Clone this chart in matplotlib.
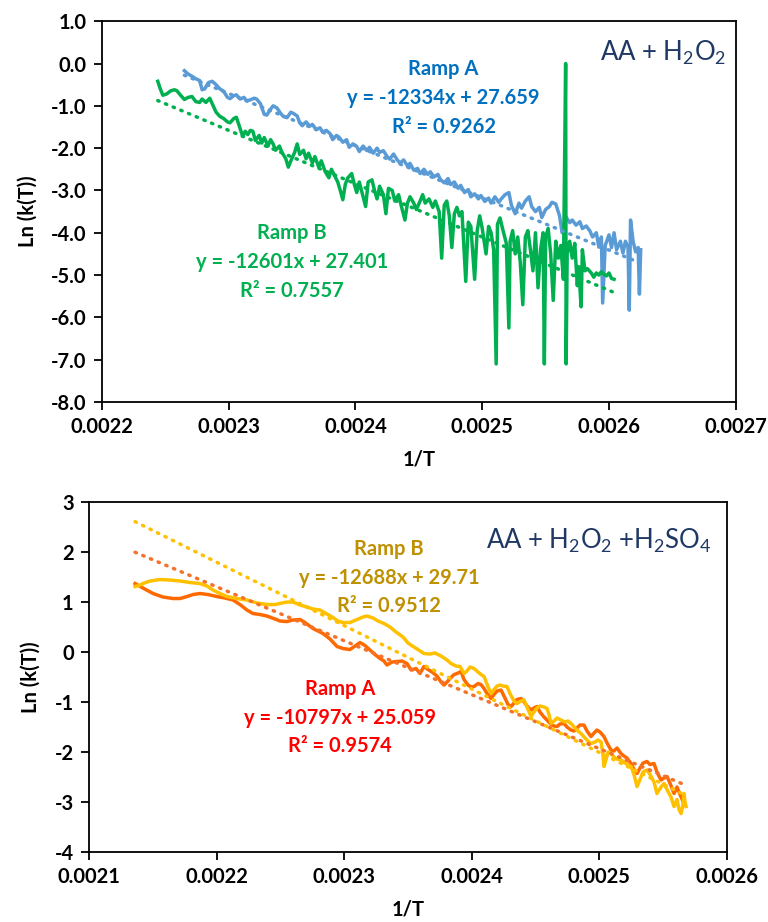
import numpy as np
import matplotlib.pyplot as plt

plt.rcParams['font.family'] = ['Lato', 'DejaVu Sans']
plt.rcParams['mathtext.fontset'] = 'custom'
plt.rcParams['mathtext.rm'] = 'Lato'
plt.rcParams['mathtext.default'] = 'regular'
plt.rcParams['axes.unicode_minus'] = False

# ---- top panel: AA + H2O2 (x in 1e-6 units of 1/T) ----
top_a_x = [2265, 2268, 2271, 2274, 2277, 2279, 2281, 2284, 2287, 2290, 2293, 2296, 2299, 2301, 2304,
           2306, 2309, 2312, 2314, 2317, 2320, 2322, 2325, 2328, 2330, 2333, 2335, 2338, 2341, 2343,
           2346, 2349, 2351, 2354, 2356, 2358, 2361, 2364, 2366, 2369, 2372, 2374, 2377, 2380, 2382,
           2385, 2387, 2390, 2393, 2395, 2398, 2401, 2403, 2406, 2409, 2411, 2414, 2417, 2419, 2422,
           2425, 2427, 2430, 2433, 2435, 2438, 2441, 2443, 2446, 2449, 2451, 2454, 2457, 2459, 2462,
           2465, 2467, 2470, 2473, 2475, 2478, 2481, 2483, 2486, 2489, 2491, 2494, 2497, 2499, 2502,
           2505, 2507, 2510, 2513, 2515, 2518, 2521, 2523, 2526, 2529, 2531, 2534, 2537, 2539, 2542,
           2545, 2547, 2550, 2553, 2555, 2558, 2561, 2563, 2566, 2569, 2571, 2574, 2577, 2579, 2582,
           2585, 2587, 2590, 2592, 2594, 2595, 2597, 2600, 2602, 2604, 2606, 2609, 2611, 2613, 2615,
           2616, 2617, 2619, 2621, 2623, 2624, 2625]
top_a_y = [-0.17, -0.25, -0.30, -0.36, -0.40, -0.62, -0.60, -0.45, -0.42, -0.50, -0.60, -0.66, -0.80, -0.83, -0.76,
           -0.74, -0.84, -0.80, -0.88, -0.86, -0.82, -0.84, -0.95, -1.20, -1.22, -1.08, -1.00, -1.05, -1.18, -1.25,
           -1.28, -1.15, -1.18, -1.24, -1.40, -1.47, -1.38, -1.48, -1.44, -1.56, -1.52, -1.62, -1.58, -1.66, -1.80,
           -1.70, -1.74, -1.86, -1.80, -1.98, -1.90, -1.96, -2.08, -1.95, -2.06, -1.98, -2.12, -2.00, -2.10, -2.06,
           -2.20, -2.26, -2.14, -2.28, -2.35, -2.28, -2.42, -2.36, -2.52, -2.48, -2.60, -2.50, -2.62, -2.56, -2.68,
           -2.62, -2.74, -2.82, -2.72, -2.86, -2.80, -2.95, -2.88, -3.05, -2.98, -3.15, -3.08, -3.20, -3.12, -3.26,
           -3.18, -3.30, -3.15, -3.28, -3.20, -3.10, -3.05, -3.35, -3.55, -3.30, -3.42, -3.25, -3.15, -3.38, -3.50,
           -3.40, -3.64, -3.45, -3.38, -3.28, -3.32, -3.60, -4.00, -3.62, -3.76, -3.70, -3.82, -3.74, -3.90, -3.84,
           -3.96, -4.10, -4.00, -4.34, -4.10, -5.66, -4.30, -4.05, -4.35, -4.00, -4.40, -4.20, -4.48, -4.20, -4.35,
           -5.83, -3.70, -4.20, -4.45, -4.35, -5.45, -4.40]

top_b_x = [2244, 2246, 2248, 2251, 2254, 2257, 2259, 2262, 2265, 2268, 2271, 2274, 2277, 2279, 2282,
           2285, 2287, 2290, 2293, 2296, 2299, 2301, 2304, 2306, 2308, 2311, 2313, 2315, 2317, 2319,
           2321, 2324, 2326, 2328, 2331, 2333, 2335, 2337, 2340, 2342, 2345, 2347, 2349, 2352, 2354,
           2356, 2359, 2361, 2363, 2366, 2368, 2371, 2373, 2376, 2379, 2381, 2383, 2386, 2388, 2390,
           2392, 2394, 2397, 2399, 2401, 2403, 2406, 2408, 2410, 2413, 2415, 2417, 2419, 2422, 2424,
           2426, 2429, 2431, 2434, 2436, 2439, 2441, 2443, 2446, 2448, 2451, 2453, 2455, 2458, 2461,
           2463, 2466, 2468, 2470, 2472, 2474, 2476, 2478, 2480, 2482, 2484, 2487, 2489, 2491, 2494,
           2496, 2498, 2500, 2503, 2505, 2507, 2509, 2511, 2512, 2514, 2516, 2519, 2521, 2522, 2524,
           2526, 2528, 2530, 2532, 2534, 2536, 2538, 2540, 2542, 2544, 2546, 2548, 2549, 2550, 2552,
           2554, 2556, 2558, 2560, 2562, 2564, 2565.8, 2566.2, 2567, 2569, 2571, 2573, 2575, 2576, 2578,
           2579, 2581, 2583, 2586, 2588, 2590, 2592, 2594, 2596, 2598, 2600, 2602, 2604]
top_b_y = [-0.42, -0.60, -0.75, -0.72, -0.65, -0.62, -0.64, -0.75, -0.85, -0.80, -0.78, -0.90, -0.92, -0.84, -0.92,
           -0.82, -0.95, -1.15, -1.25, -1.30, -1.38, -1.40, -1.30, -1.27, -1.45, -1.72, -1.60, -1.68, -1.58, -1.60,
           -1.82, -1.70, -1.88, -1.75, -1.95, -1.80, -1.90, -2.05, -1.95, -2.10, -2.25, -2.45, -2.30, -2.10, -1.90,
           -2.15, -2.05, -2.25, -2.12, -2.35, -2.20, -2.45, -2.30, -2.55, -2.70, -2.50, -2.62, -2.80, -3.00, -3.22,
           -2.85, -2.70, -2.60, -2.85, -3.05, -2.80, -3.15, -3.38, -2.80, -2.75, -3.00, -3.20, -2.90, -3.10, -3.55,
           -2.95, -3.00, -3.25, -3.10, -3.35, -3.70, -3.30, -3.15, -3.30, -3.45, -3.25, -3.10, -3.30, -3.20, -3.40,
           -3.25, -3.50, -4.60, -3.35, -3.25, -3.60, -4.35, -3.55, -3.40, -3.60, -3.50, -5.15, -3.75, -3.85, -5.10,
           -3.95, -3.60, -3.90, -4.50, -3.85, -4.00, -4.40, -7.10, -3.80, -3.65, -3.90, -4.25, -6.25, -4.20, -3.95,
           -4.50, -4.10, -4.70, -5.70, -4.10, -3.95, -4.40, -4.90, -4.00, -5.30, -4.40, -4.00, -7.10, -4.10, -3.90,
           -4.50, -5.60, -4.20, -4.60, -4.30, -5.10, 0.00, -7.10, -4.50, -4.20, -4.60, -4.25, -5.25, -4.80, -5.75,
           -4.40, -4.90, -4.85, -4.95, -5.05, -4.95, -5.00, -4.92, -4.98, -5.02, -4.95, -5.08, -5.10]

# ---- bottom panel: AA + H2O2 + H2SO4 ----
bot_a_x = [2136.1, 2142.3, 2150.2, 2158.0, 2165.8, 2171.3, 2176.8, 2181.5, 2187.0, 2193.3, 2200.3, 2206.6,
           2212.9, 2218.3, 2223.8, 2228.5, 2234.0, 2239.5, 2245.8, 2249.7, 2255.2, 2259.9, 2265.4, 2269.3,
           2275.5, 2279.5, 2283.4, 2288.9, 2294.4, 2299.1, 2304.5, 2308.5, 2312.4, 2316.3, 2320.2, 2324.1,
           2328.1, 2331.2, 2333.5, 2337.5, 2341.4, 2345.3, 2349.2, 2352.4, 2356.3, 2359.4, 2362.5, 2365.7,
           2368.8, 2372.7, 2375.9, 2378.2, 2380.6, 2382.9, 2386.1, 2388.4, 2391.5, 2393.9, 2397.0, 2399.4,
           2401.7, 2404.9, 2407.2, 2409.6, 2412.0, 2415.0, 2417.4, 2419.8, 2422.9, 2426.0, 2428.4, 2430.7,
           2433.1, 2435.4, 2438.6, 2440.9, 2444.0, 2446.4, 2448.7, 2451.1, 2453.4, 2456.6, 2458.9, 2462.1,
           2464.4, 2466.8, 2469.1, 2472.3, 2474.6, 2477.7, 2480.1, 2482.4, 2484.8, 2487.9, 2490.3, 2493.4,
           2495.8, 2498.1, 2500.5, 2503.6, 2506.0, 2509.1, 2511.4, 2513.8, 2516.9, 2519.3, 2521.6, 2524.8,
           2527.1, 2529.5, 2531.8, 2534.2, 2537.3, 2539.7, 2542.8, 2545.1, 2548.3, 2550.6, 2553.0, 2555.3,
           2558.5, 2560.8, 2563.2, 2566.3]
bot_a_y = [1.37, 1.28, 1.17, 1.10, 1.07, 1.07, 1.11, 1.15, 1.17, 1.15, 1.11, 1.08,
           1.04, 0.95, 0.84, 0.77, 0.75, 0.72, 0.66, 0.62, 0.61, 0.64, 0.65, 0.59,
           0.47, 0.42, 0.37, 0.26, 0.11, 0.07, 0.05, 0.12, 0.19, 0.13, 0.04, -0.05,
           -0.13, -0.18, -0.26, -0.20, -0.19, -0.18, -0.23, -0.36, -0.33, -0.43, -0.29, -0.35,
           -0.40, -0.48, -0.60, -0.66, -0.60, -0.53, -0.45, -0.43, -0.39, -0.55, -0.66, -0.70,
           -0.69, -0.63, -0.65, -0.73, -0.83, -0.93, -0.85, -0.78, -0.76, -0.92, -1.05, -1.09,
           -1.02, -0.95, -0.93, -1.00, -1.10, -1.16, -1.12, -1.09, -1.20, -1.30, -1.36, -1.45,
           -1.48, -1.49, -1.44, -1.43, -1.50, -1.56, -1.58, -1.52, -1.46, -1.46, -1.58, -1.69,
           -1.62, -1.56, -1.60, -1.69, -1.82, -1.96, -1.98, -1.92, -2.03, -2.08, -2.12, -2.23,
           -2.35, -2.43, -2.32, -2.22, -2.19, -2.25, -2.23, -2.40, -2.56, -2.52, -2.49, -2.62,
           -2.83, -2.70, -2.85, -3.03]

bot_b_x = [2136.1, 2140.0, 2142.3, 2147.8, 2155.6, 2163.5, 2171.3, 2179.2, 2187.0, 2192.5, 2197.2, 2202.7,
           2208.2, 2216.0, 2223.8, 2231.7, 2239.5, 2245.8, 2251.3, 2255.2, 2259.9, 2265.4, 2270.9, 2275.5,
           2281.0, 2286.5, 2291.2, 2295.1, 2299.1, 2304.5, 2310.0, 2314.7, 2317.9, 2322.6, 2326.5, 2331.2,
           2335.9, 2340.6, 2346.1, 2350.0, 2354.0, 2357.8, 2362.5, 2367.2, 2371.2, 2375.9, 2380.6, 2383.7,
           2387.6, 2390.8, 2393.9, 2396.2, 2398.6, 2401.7, 2404.9, 2407.2, 2409.6, 2412.0, 2415.0, 2417.4,
           2419.8, 2422.1, 2424.4, 2427.6, 2429.9, 2433.1, 2435.4, 2438.6, 2440.9, 2443.3, 2446.4, 2448.7,
           2451.1, 2453.4, 2456.6, 2458.9, 2460.5, 2462.1, 2464.4, 2466.8, 2469.9, 2473.0, 2475.4, 2477.7,
           2480.9, 2483.2, 2485.6, 2488.7, 2491.1, 2493.4, 2496.6, 2498.9, 2501.3, 2502.8, 2503.6, 2505.2,
           2506.8, 2509.1, 2511.4, 2513.8, 2516.9, 2519.3, 2521.6, 2524.8, 2527.1, 2529.5, 2531.8, 2534.2,
           2537.3, 2539.7, 2542.8, 2545.1, 2548.3, 2550.6, 2553.0, 2556.1, 2558.5, 2560.8, 2562.4, 2564.0,
           2565.5, 2566.3, 2567.1, 2567.9]
bot_b_y = [1.31, 1.34, 1.37, 1.42, 1.45, 1.44, 1.42, 1.39, 1.37, 1.32, 1.24, 1.17,
           1.11, 1.07, 1.04, 0.98, 0.95, 0.95, 0.98, 1.00, 1.00, 0.94, 0.90, 0.86,
           0.84, 0.76, 0.69, 0.62, 0.59, 0.59, 0.65, 0.70, 0.72, 0.68, 0.62, 0.57,
           0.50, 0.40, 0.30, 0.18, 0.11, 0.05, -0.03, -0.04, -0.02, -0.08, -0.16, -0.23,
           -0.28, -0.29, -0.43, -0.38, -0.30, -0.33, -0.40, -0.45, -0.49, -0.65, -0.83, -0.75,
           -0.68, -0.66, -0.68, -0.69, -0.83, -0.98, -1.03, -0.98, -0.96, -1.10, -1.29, -1.20,
           -1.12, -1.08, -1.10, -1.13, -1.25, -1.43, -1.38, -1.32, -1.36, -1.40, -1.38, -1.43,
           -1.52, -1.58, -1.63, -1.72, -1.78, -1.83, -1.80, -1.76, -1.80, -2.05, -2.29, -2.15,
           -2.00, -2.03, -2.10, -2.14, -2.16, -2.20, -2.25, -2.29, -2.45, -2.69, -2.55, -2.40,
           -2.36, -2.45, -2.60, -2.83, -2.70, -2.63, -2.75, -2.90, -3.09, -2.95, -3.15, -3.23,
           -3.05, -2.83, -3.00, -3.09]

# linear trendlines as printed on the chart
slopes = {'top_a': -12334, 'top_b': -12601, 'bot_a': -10797, 'bot_b': -12688}
intercepts = {'top_a': 27.659, 'top_b': 27.401, 'bot_a': 25.059, 'bot_b': 29.71}
r2 = {'top_a': 0.9262, 'top_b': 0.7557, 'bot_a': 0.9574, 'bot_b': 0.9512}

top_yticks = [1.0, 0.0, -1.0, -2.0, -3.0, -4.0, -5.0, -6.0, -7.0, -8.0]
top_xticks = [0.0022, 0.0023, 0.0024, 0.0025, 0.0026, 0.0027]
bot_yticks = [3, 2, 1, 0, -1, -2, -3, -4]
bot_xticks = [0.0021, 0.0022, 0.0023, 0.0024, 0.0025, 0.0026]

FS = 14.5


def px(vals):
    return np.array(vals) * 1e-6


def trend(ax, key, xs, color):
    xs = px(xs)
    xx = np.array([xs.min(), xs.max()])
    ax.plot(xx, slopes[key] * xx + intercepts[key], color=color, lw=2.5,
            linestyle=(0, (0.4, 2.0)), dash_capstyle='round', zorder=4)


def label(ax, key, name, x, y, color):
    s = '%s\ny = %dx + %s\nR² = %s' % (name, slopes[key], intercepts[key], r2[key])
    ax.text(x, y, s, transform=ax.transAxes, ha='center', va='top', color=color,
            fontsize=FS, fontweight='bold', linespacing=1.55, zorder=6)


def style(ax, xticks, yticks, ylabels):
    ax.set_xticks(xticks)
    ax.set_xticklabels([str(t) for t in xticks])
    ax.set_yticks(yticks)
    ax.set_yticklabels(ylabels)
    ax.set_xlim(xticks[0], xticks[-1])
    ax.set_ylim(yticks[-1], yticks[0])
    for sp in ax.spines.values():
        sp.set_linewidth(1.3)
    ax.tick_params(direction='out', length=6, width=1.3, labelsize=FS, pad=5)
    for t in ax.get_xticklabels() + ax.get_yticklabels():
        t.set_fontweight('bold')
    ax.set_xlabel('1/T', fontsize=FS, fontweight='bold', labelpad=9)
    ax.set_ylabel('Ln (k(T))', fontsize=FS, fontweight='bold', labelpad=10)


fig = plt.figure(figsize=(7.68, 9.22), dpi=100)

# top
ax1 = fig.add_axes([0.1328, 0.564, 0.8252, 0.413])
ax1.plot(px(top_a_x), top_a_y, color='#5B9BD5', lw=2.5, zorder=2)
ax1.plot(px(top_b_x), top_b_y, color='#00B050', lw=2.5, zorder=3)
trend(ax1, 'top_a', top_a_x, '#5B9BD5')
trend(ax1, 'top_b', top_b_x, '#00B050')
style(ax1, top_xticks, top_yticks, ['%.1f' % v for v in top_yticks])
label(ax1, 'top_a', 'Ramp A', 0.539, 0.9, '#0070C0')
label(ax1, 'top_b', 'Ramp B', 0.30, 0.47, '#00B050')
ax1.text(0.985, 0.955, r'AA + H$_2$O$_2$', transform=ax1.transAxes, ha='right', va='top',
         fontsize=18.5, color='#1F3864')

# bottom
ax2 = fig.add_axes([0.1159, 0.0759, 0.8307, 0.3796])
ax2.plot(px(bot_a_x), bot_a_y, color='#FF6A00', lw=2.5, zorder=2)
ax2.plot(px(bot_b_x), bot_b_y, color='#FFC000', lw=2.5, zorder=3)
trend(ax2, 'bot_a', bot_a_x, '#F4722B')
trend(ax2, 'bot_b', bot_b_x, '#FFC000')
style(ax2, bot_xticks, bot_yticks, [str(v) for v in bot_yticks])
label(ax2, 'bot_b', 'Ramp B', 0.47, 0.895, '#BF9000')
label(ax2, 'bot_a', 'Ramp A', 0.394, 0.495, '#FF0000')
ax2.text(0.975, 0.93, r'AA + H$_2$O$_2$ +H$_2$SO$_4$', transform=ax2.transAxes, ha='right', va='top',
         fontsize=18.5, color='#1F3864')

fig.savefig('out.png', dpi=100)
